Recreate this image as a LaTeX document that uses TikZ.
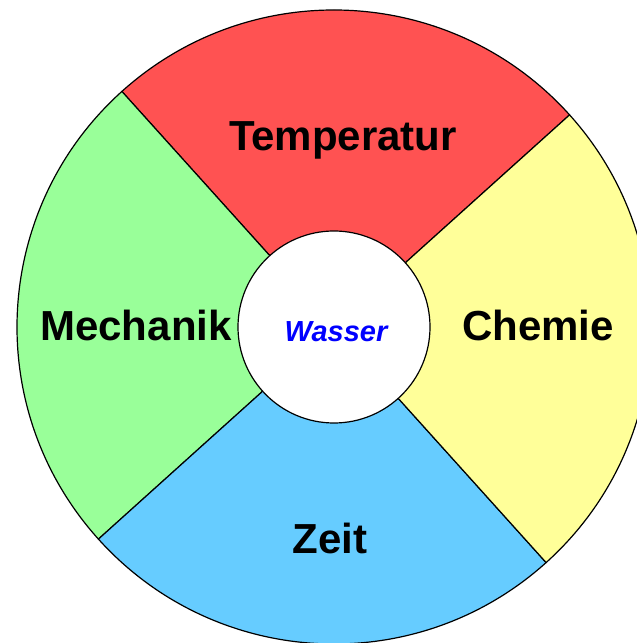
\documentclass[tikz,border=0pt]{standalone}
\usepackage{fontspec}
\setmainfont{Liberation Sans}
\definecolor{tempred}{HTML}{FF5252}
\definecolor{chemyellow}{HTML}{FFFF99}
\definecolor{zeitblue}{HTML}{66CCFF}
\definecolor{mechgreen}{HTML}{99FF99}
\tikzset{
  sector/.style={draw=black, line width=1.2pt, line join=round},
  biglabel/.style={font=\fontsize{42}{48}\selectfont\bfseries, inner sep=0pt},
}
\begin{document}
\begin{tikzpicture}
        \clip (0pt,0pt) rectangle (637pt,643pt);
        \coordinate (mid) at (334pt,316pt);
        % Sectors
        \filldraw[sector, fill=tempred] (mid) -- ++(42:317pt) arc (42:132:317pt) -- cycle;
        \filldraw[sector, fill=mechgreen] (mid) -- ++(132:317pt) arc (132:222:317pt) -- cycle;
        \filldraw[sector, fill=zeitblue] (mid) -- ++(222:317pt) arc (222:312:317pt) -- cycle;
        \filldraw[sector, fill=chemyellow] (mid) -- ++(312:317pt) arc (312:402:317pt) -- cycle;
        % Centre
        \node[circle, draw=black, line width=1.2pt, fill=white, minimum size=192pt, inner sep=0pt] (hub) at (mid) {};
        \node[font=\fontsize{29}{32}\selectfont\bfseries\itshape, text=blue, inner sep=0pt] (wasser) at (336pt,311pt) {Wasser};
        % Labels
        \node[biglabel] (temperatur) at (343pt,503pt) {Temperatur};
        \node[biglabel] (mechanik) at (136pt,318pt) {Mechanik};
        \node[biglabel] (chemie) at (538pt,318pt) {Chemie};
        \node[biglabel] (zeit) at (330pt,105pt) {Zeit};
\end{tikzpicture}
\end{document}
